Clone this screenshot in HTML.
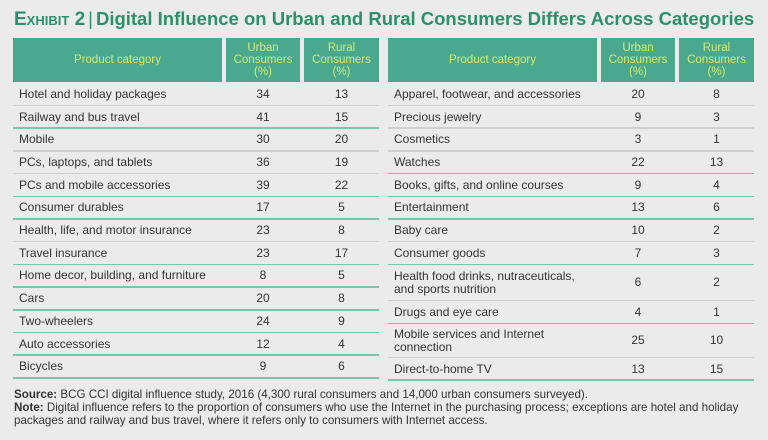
<!DOCTYPE html>
<html><head><meta charset="utf-8">
<style>
body{margin:0;background:#ebebeb;}
#root{position:relative;width:768px;height:440px;background:#ebebeb;overflow:hidden;font-family:"Liberation Sans",sans-serif;color:#333;}
.title{position:absolute;left:14px;top:8px;font-size:18.5px;font-weight:bold;color:#2d8f6c;white-space:nowrap;letter-spacing:0px}
.title .ex{font-variant:small-caps;font-size:19px}
.title .bar{font-weight:normal;color:#2d8f6c;margin:0 3px}
.hd{position:absolute;background:#4aa88e;color:#d3ec6e;font-size:11.5px;line-height:12px;text-align:center;display:flex;align-items:center;justify-content:center}
.cell{position:absolute;font-size:12px;display:flex;align-items:center;line-height:13px;color:#333}
.num{justify-content:center}
.sep{position:absolute;height:1px}
.foot{position:absolute;left:14px;top:388px;font-size:11.6px;line-height:13px;color:#333;width:750px;white-space:nowrap}
</style></head>
<body>
<div id="root">
<div class="title"><span class="ex">Exhibit 2</span><span class="bar">|</span>Digital Influence on Urban and Rural Consumers Differs Across Categories</div>
<div class="foot"><b>Source:</b> BCG CCI digital influence study, 2016 (4,300 rural consumers and 14,000 urban consumers surveyed).<br><b>Note:</b> Digital influence refers to the proportion of consumers who use the Internet in the purchasing process; exceptions are hotel and holiday<br>packages and railway and bus travel, where it refers only to consumers with Internet access.</div>
</div>
<script>
const leftCategories=["Hotel and holiday packages","Railway and bus travel","Mobile","PCs, laptops, and tablets","PCs and mobile accessories","Consumer durables","Health, life, and motor insurance","Travel insurance","Home decor, building, and furniture","Cars","Two-wheelers","Auto accessories","Bicycles"];
const leftUrban=[34,41,30,36,39,17,23,23,8,20,24,12,9];
const leftRural=[13,15,20,19,22,5,8,17,5,8,9,4,6];
const leftGreen=[0,1,0,0,1,1,0,1,1,1,1,1,1];
const leftRowLines=[1,1,1,1,1,1,1,1,1,1,1,1,1];
const rightCategories=["Apparel, footwear, and accessories","Precious jewelry","Cosmetics","Watches","Books, gifts, and online courses","Entertainment","Baby care","Consumer goods","Health food drinks, nutraceuticals,<br>and sports nutrition","Drugs and eye care","Mobile services and Internet<br>connection","Direct-to-home TV"];
const rightUrban=[20,9,3,22,9,13,10,7,6,4,25,13];
const rightRural=[8,3,1,13,4,6,2,3,2,1,10,15];
const rightGreen=[0,0,0,1,1,1,0,1,0,1,0,1];
const rightRowLines=[1,1,1,1,1,1,1,1,1.6,1,1.5,1];
const root=document.getElementById('root');
function mk(cls,x,y,w,h,html){const d=document.createElement('div');d.className=cls;d.style.left=x+'px';d.style.top=y+'px';d.style.width=w+'px';d.style.height=h+'px';if(html!==undefined)d.innerHTML=html;root.appendChild(d);return d;}
function table(x0,cats,urb,rur,green,lines,side){
  const cw=[209,74,75],gap=4,top=38,hh=44,rh=22.7;
  const cx=[x0,x0+cw[0]+gap,x0+cw[0]+cw[1]+2*gap];
  let h=mk('hd',cx[0],top,cw[0],hh,'Product category');
  
  
  h=mk('hd',cx[1],top,cw[1],hh,'Urban<br>Consumers<br>(%)');
  
  
  h=mk('hd',cx[2],top,cw[2],hh,'Rural<br>Consumers<br>(%)');
  
  
  let y=top+hh+1;
  const total=cw[0]+cw[1]+cw[2]+2*gap;
  for(let i=0;i<cats.length;i++){
    const r=rh*lines[i];
    let c=mk('cell',cx[0]+6,y,cw[0]-6,r,cats[i]);
    
    
    c=mk('cell num',cx[1],y,cw[1],r,urb[i]);
    
    
    c=mk('cell num',cx[2],y,cw[2],r,rur[i]);
    
    
    y+=r;
    const s=mk('sep',x0,y-1,total,1.5);
    s.style.background=green[i]?'#7cc4ad':'#cfcfcf';
    
    
  }
}
table(13,leftCategories,leftUrban,leftRural,leftGreen,leftRowLines,'left');
table(388,rightCategories,rightUrban,rightRural,rightGreen,rightRowLines,'right');
</script>
</body></html>
